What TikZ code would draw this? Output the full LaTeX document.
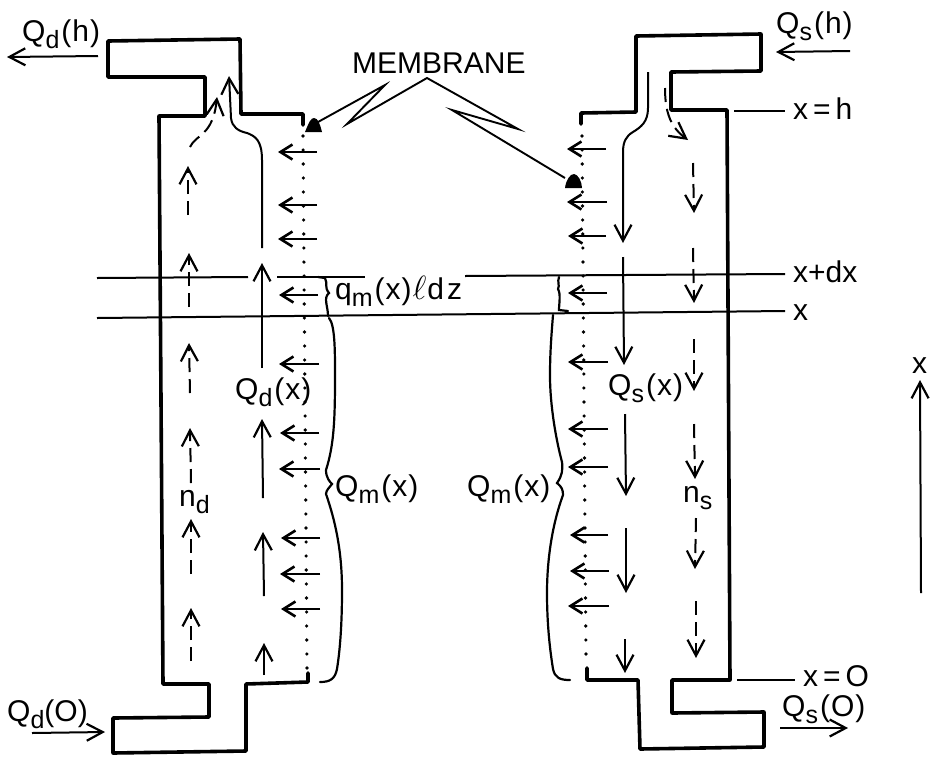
\documentclass[tikz,border=0pt]{standalone}
\usepackage{fontspec}
\setmainfont{Liberation Sans}
\usetikzlibrary{arrows.meta}
\newcommand{\dn}[1]{\raisebox{-7pt}{\fontsize{25}{25}\selectfont #1}}
\newcommand{\lp}{\kern2pt(\kern1pt}
\newcommand{\rp}{\kern1pt)}
\tikzset{
  wall/.style={line width=3.6pt,line join=round,line cap=round},
  flow/.style={line width=2pt,-{Straight Barb[length=16pt,width=17pt,line width=2.2pt]}},
  dashflow/.style={flow,dash pattern=on 14pt off 7pt},
  perm/.style={line width=2.6pt,-{Straight Barb[length=12pt,width=15pt,line width=2.6pt]}},
  level/.style={line width=2pt},
  brace/.style={line width=2.2pt,line cap=round},
  pointer/.style={line width=1.9pt,line join=miter},
  dots/.style={line width=3.6pt,line cap=round,dash pattern=on 0pt off 14pt},
  lbl/.style={anchor=base west,inner sep=0pt,font=\fontsize{30}{36}\selectfont},
}
\begin{document}
\begin{tikzpicture}[x=1pt,y=-1pt]
\useasboundingbox (0,0) rectangle (937,756);
% left shell
\draw[wall] (303,125)--(303,114)--(241,114)--(240,39)--(108,41)--(108,77)--(205,77)--(205,116)--(159,116)
  --(163,684)--(209,684)--(209,717)--(113,718)--(113,753)--(246,751)--(246,684)--(308,682)--(308,673);
% right shell
\draw[wall] (581,124)--(581,113)--(636,112)--(636,36)--(761,34)--(761,71)--(671,72)--(671,110)--(727,110)
  --(730,680)--(672,680)--(672,713)--(764,712)--(764,747)--(640,749)--(638,680)--(587,680)--(587,668);
% membranes
\draw[dots] (303,136)--(307,668);
\draw[dots] (582,136)--(586,660);
% levels
\draw[level] (97,278)--(248,277);
\draw[level] (277,277)--(365,277);
\draw[level] (465,276)--(785,274);
\draw[level] (97,318)--(785,311);
\draw[level] (734,111)--(785,111);
\draw[level] (737,680)--(795,680);
% left solid flow
\draw[flow] (262,248)--(262,160) .. controls (262,140) and (255,136) .. (247,133)
  .. controls (238,131) and (232,127) .. (231,118) -- (229,76);
\draw[flow] (262,368)--(262,263);
\draw[flow] (263,498)--(262,419);
\draw[flow] (264,596)--(263,532);
\draw[flow] (264,675)--(264,643);
% left dashed flow
\draw[dashflow] (190,147) .. controls (196,134) and (213,136) .. (217,97);
\draw[dashflow] (188,215)--(188,166);
\draw[dashflow] (189,307)--(189,253);
\draw[dashflow] (190,393)--(189,343);
\draw[dashflow] (191,483)--(190,428);
\draw[dashflow] (191,574)--(191,519);
\draw[dashflow] (191,661)--(191,608);
% right solid flow
\draw[flow] (648,72)--(648,108) .. controls (648,122) and (641,127) .. (633,132)
  .. controls (626,136) and (623,142) .. (623,152) -- (623,243);
\draw[flow] (623,257)--(624,365);
\draw[flow] (625,414)--(626,496);
\draw[flow] (626,528)--(626,593);
\draw[flow] (625,639)--(625,673);
% right dashed flow
\draw[dashflow] (665,88) .. controls (665,115) and (672,128) .. (688,140);
\draw[dashflow] (693,163)--(694,213);
\draw[dashflow] (693,248)--(694,303);
\draw[dashflow] (694,339)--(694,391);
\draw[dashflow] (694,424)--(695,479);
\draw[dashflow] (696,518)--(695,569);
\draw[dashflow] (696,601)--(696,658);
% permeation arrows
\foreach \yy/\xa/\xb in {152/317/278,205/317/278,239/317/278,295/318/279,364/319/279,433/319/280,469/320/279,538/320/281,574/320/280,609/320/281}
  \draw[perm] (\xa,\yy)--(\xb,\yy);
\foreach \yy/\xa/\xb in {149/606/567,202/607/567,236/606/568,293/607/568,362/608/568,429/608/568,467/608/568,535/608/570,571/609/570,606/609/568}
  \draw[perm] (\xa,\yy)--(\xb,\yy);
% braces
\draw[brace] (318,277)--(325,278) .. controls (328,284) and (324,287) .. (329,293)
  .. controls (323,298) and (328,306) .. (328,316);
\draw[brace] (329,318) .. controls (335,325) and (335,350) .. (335,376)
  .. controls (335,420) and (334,445) .. (326,470) .. controls (326,478) and (330,482) .. (332,484)
  .. controls (330,487) and (326,490) .. (326,494) .. controls (335,520) and (342,550) .. (342,590)
  .. controls (342,625) and (340,650) .. (337,669) .. controls (335,679) and (330,682) .. (320,682);
\draw[brace] (559,277) .. controls (557,282) and (560,285) .. (558,289)
  .. controls (561,294) and (559,304) .. (559,310)--(568,311);
\draw[brace] (553,315) .. controls (551,340) and (550,355) .. (550,376)
  .. controls (550,405) and (556,440) .. (562,462) .. controls (563,470) and (562,476) .. (557,483)
  .. controls (562,487) and (563,490) .. (563,495) .. controls (552,525) and (547,560) .. (547,593)
  .. controls (547,625) and (550,650) .. (553,669) .. controls (555,678) and (560,680) .. (570,680);
% membrane pointers
\draw[pointer] (318,122)--(385,85)--(347,124)--(427,78)--(518,129)--(452,110)--(565,178);
\fill (305,132) .. controls (309,122) and (311,118) .. (314,118) .. controls (318,118) and (320,124) .. (322,132) -- cycle;
\fill (565,188) .. controls (566,180) and (570,174) .. (574,174) .. controls (578,174) and (582,182) .. (582,188) -- cycle;
% external arrows
\draw[flow] (98,56)--(7,57);
\draw[flow] (850,51)--(776,52);
\draw[flow] (32,733)--(105,732);
\draw[flow] (780,728)--(848,728);
\draw[flow] (921,593)--(920,380);
% labels
\node[lbl] (qdh) at (22,41) {Q\dn{d}\lp h\rp};
\node[lbl] (qsh) at (776,33) {Q\dn{s}\lp h\rp};
\node[lbl] (mem) at (352,73) {MEMBRANE};
\node[lbl] (xh) at (793,119) {x\,=\,h};
\node[lbl] (xdx) at (793,282) {x+dx};
\node[lbl] (xx) at (793,320) {x};
\node[lbl] (qm) at (335,299) {q\dn{m}\lp x\rp\kern1pt\scalebox{1.35}{$\ell$}\kern1pt d\kern3pt z};
\node[lbl] (qdx) at (235,399) {Q\dn{d}\lp x\rp};
\node[lbl] (qsx) at (608,395) {Q\dn{s}\lp x\rp};
\node[lbl] (qml) at (335,496) {Q\dn{m}\lp x\rp};
\node[lbl] (qmr) at (467,496) {Q\dn{m}\lp x\rp};
\node[lbl] (nd) at (179,506) {n\dn{d}};
\node[lbl] (ns) at (683,502) {n\dn{s}};
\node[lbl] (qdo) at (7,721) {Q\dn{d}(O)};
\node[lbl] (qso) at (782,716) {Q\dn{s}\lp O\rp};
\node[lbl] (xo) at (803,686) {x\,=\,O};
\node[lbl] (xax) at (912,373) {x};
\end{tikzpicture}
\end{document}
